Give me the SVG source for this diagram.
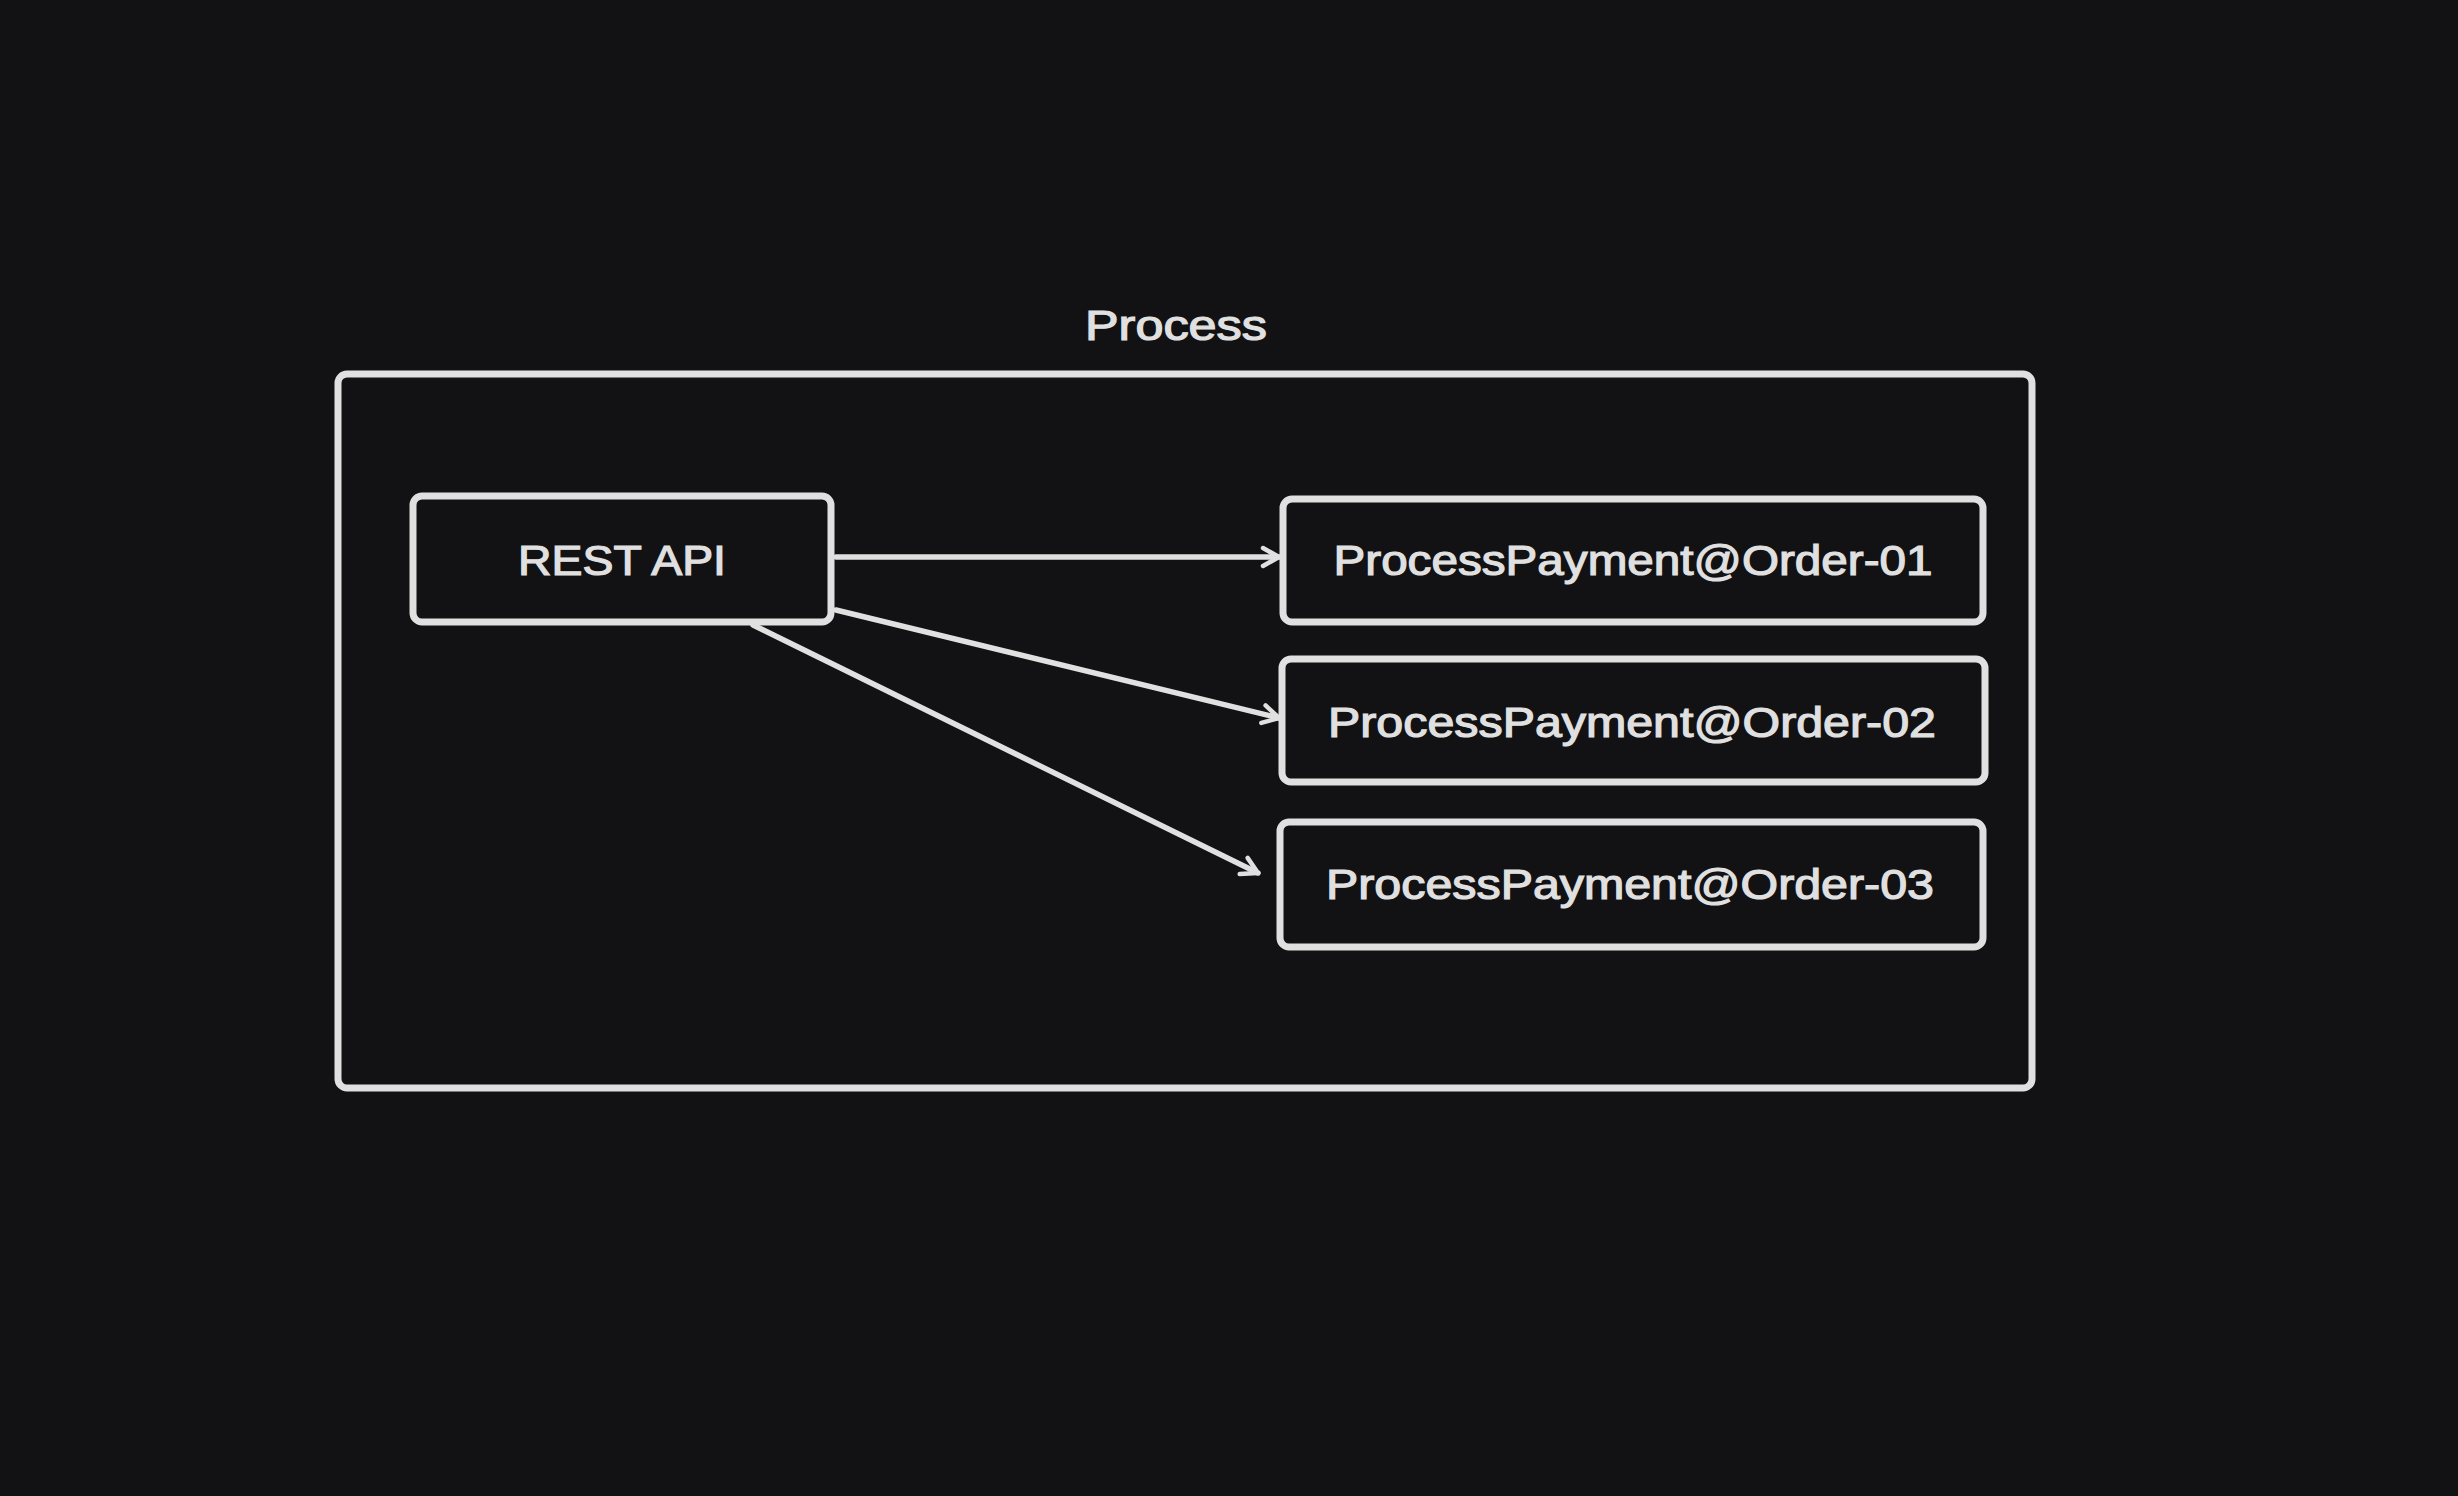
<svg xmlns="http://www.w3.org/2000/svg" width="2458" height="1496" viewBox="0 0 2458 1496">
<style>
.box{fill:#121214;stroke:#e0e0e0;stroke-width:7;}
.lbl{font-family:"Liberation Sans","Noto Sans",sans-serif;font-size:42px;fill:#e0e0e0;stroke:#e0e0e0;stroke-width:1.2;text-anchor:middle;dominant-baseline:central;}
.edge{fill:none;stroke:#e0e0e0;stroke-width:5.5;stroke-linecap:round;}
</style>
<defs>
<marker id="arr" viewBox="0 0 24 24" refX="21" refY="12" markerWidth="24" markerHeight="24" markerUnits="userSpaceOnUse" orient="auto">
<path d="M5,3 L21,12 L5,21" fill="none" stroke="#e0e0e0" stroke-width="4.5" stroke-linecap="round" stroke-linejoin="round"/>
</marker>
</defs>
<rect width="2458" height="1496" fill="#121214"/>
<g id="process">
<rect class="box" x="338" y="374" width="1694" height="714" rx="9"/>
<text class="lbl" x="1176" y="325" textLength="182" lengthAdjust="spacingAndGlyphs">Process</text>
</g>
<g id="rest-api">
<rect class="box" x="413" y="496" width="418" height="126" rx="9"/>
<text class="lbl" x="622" y="560" textLength="208" lengthAdjust="spacingAndGlyphs">REST API</text>
</g>
<g id="order-01">
<rect class="box" x="1283" y="499" width="700" height="123" rx="9"/>
<text class="lbl" x="1633" y="560" textLength="599" lengthAdjust="spacingAndGlyphs">ProcessPayment@Order-01</text>
</g>
<g id="order-02">
<rect class="box" x="1282" y="659" width="703" height="123" rx="9"/>
<text class="lbl" x="1632" y="722" textLength="608" lengthAdjust="spacingAndGlyphs">ProcessPayment@Order-02</text>
</g>
<g id="order-03">
<rect class="box" x="1280" y="822" width="703" height="125" rx="9"/>
<text class="lbl" x="1630" y="884" textLength="608" lengthAdjust="spacingAndGlyphs">ProcessPayment@Order-03</text>
</g>
<g id="connectors">
<path class="edge" d="M836,557 L1279,557" marker-end="url(#arr)"/>
<path class="edge" d="M836,610 L1279,718" marker-end="url(#arr)"/>
<path class="edge" d="M753,625 L1258,873" marker-end="url(#arr)"/>
</g>
</svg>
